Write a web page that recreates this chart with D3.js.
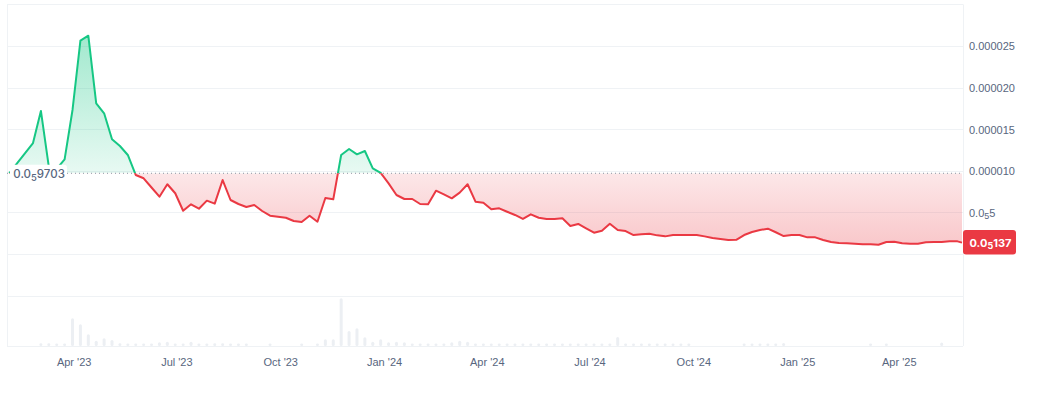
<!DOCTYPE html>
<html>
<head>
<meta charset="utf-8">
<script src="https://cdn.jsdelivr.net/npm/d3@7"></script>
<style>
  html, body { margin: 0; padding: 0; background: #fff; }
  svg { display: block; font-family: Inter, "Noto Sans", sans-serif; }
</style>
</head>
<body>
<svg id="chart" width="1048" height="394"></svg>
<script>
// weekly closes, first point = baseline price
var startDate = new Date(Date.UTC(2023, 1, 3));
var lastDate = new Date(Date.UTC(2025, 4, 27));

var prices = [
  9.703e-6, 10.91e-6, 12.13e-6, 13.34e-6, 17.19e-6, 10.49e-6, 10.22e-6, 11.38e-6, 17.31e-6, 25.64e-6,
  26.24e-6, 18.11e-6, 16.91e-6, 13.79e-6, 12.98e-6, 11.90e-6, 9.50e-6, 9.10e-6, 7.99e-6, 6.89e-6,
  8.38e-6, 7.30e-6, 5.20e-6, 5.97e-6, 5.44e-6, 6.41e-6, 6.05e-6, 8.89e-6, 6.49e-6, 6.01e-6,
  5.65e-6, 5.89e-6, 5.17e-6, 4.60e-6, 4.48e-6, 4.36e-6, 3.97e-6, 3.85e-6, 4.60e-6, 3.88e-6,
  6.73e-6, 6.57e-6, 11.90e-6, 12.62e-6, 11.98e-6, 12.38e-6, 10.30e-6, 9.75e-6, 8.49e-6, 7.09e-6,
  6.61e-6, 6.61e-6, 6.01e-6, 5.97e-6, 7.61e-6, 7.17e-6, 6.69e-6, 7.37e-6, 8.38e-6, 6.29e-6,
  6.17e-6, 5.37e-6, 5.49e-6, 5.08e-6, 4.69e-6, 4.21e-6, 4.77e-6, 4.36e-6, 4.21e-6, 4.21e-6,
  4.29e-6, 3.37e-6, 3.61e-6, 3.09e-6, 2.56e-6, 2.80e-6, 3.64e-6, 2.88e-6, 2.76e-6, 2.28e-6,
  2.36e-6, 2.44e-6, 2.24e-6, 2.12e-6, 2.28e-6, 2.28e-6, 2.28e-6, 2.28e-6, 2.12e-6, 1.92e-6,
  1.80e-6, 1.68e-6, 1.70e-6, 2.28e-6, 2.64e-6, 2.88e-6, 3.04e-6, 2.61e-6, 2.16e-6, 2.28e-6,
  2.28e-6, 2.00e-6, 2.00e-6, 1.68e-6, 1.44e-6, 1.32e-6, 1.28e-6, 1.24e-6, 1.16e-6, 1.16e-6,
  1.12e-6, 1.44e-6, 1.48e-6, 1.28e-6, 1.24e-6, 1.24e-6, 1.40e-6, 1.44e-6, 1.44e-6, 1.52e-6,
  1.52e-6, 1.37e-6
];

// weekly volume (thousand USD)
var volumes = [
  0, 0, 0, 0, 27, 27, 10, 10, 277, 217,
  117, 53, 77, 60, 27, 17, 17, 17, 10, 37,
  43, 17, 10, 43, 10, 10, 27, 27, 17, 10,
  10, 0, 0, 7, 0, 0, 0, 7, 0, 7,
  67, 67, 477, 150, 177, 87, 43, 67, 37, 43,
  37, 17, 17, 17, 17, 17, 37, 53, 43, 17,
  10, 10, 10, 7, 10, 7, 7, 10, 10, 7,
  10, 10, 10, 10, 17, 10, 17, 90, 20, 10,
  10, 10, 17, 10, 10, 17, 7, 0, 0, 0,
  0, 0, 0, 7, 7, 10, 17, 10, 30, 0,
  0, 0, 0, 0, 0, 0, 0, 0, 0, 7,
  0, 7, 0, 0, 0, 0, 0, 0, 35, 0,
  0, 0
];

var yTicks = [5e-6, 10e-6, 15e-6, 20e-6, 25e-6];
var xTicks = ["2023-04-01", "2023-07-01", "2023-10-01", "2024-01-01", "2024-04-01",
              "2024-07-01", "2024-10-01", "2025-01-01", "2025-04-01"];

var data = prices.map(function(p, i) {
  return {
    date: i < prices.length - 1 ? d3.utcDay.offset(startDate, 7 * i) : lastDate,
    price: p,
    volume: volumes[i]
  };
});

var svg = d3.select("#chart");
var width = +svg.attr("width");
var height = +svg.attr("height");

var plotLeft = 7, plotRight = 963, plotTop = 4.4, priceBottom = 295.6, volBottom = 346;
var green = "#16c784", red = "#ea3943", textColor = "#58667e", gridColor = "#eff2f5";

var x = d3.scaleUtc().domain([startDate, lastDate]).range([9.3, 962]);
var y = d3.scaleLinear().domain([-5e-6, 30e-6]).range([priceBottom, plotTop]);
var yVol = d3.scaleLinear().domain([0, d3.max(volumes)]).range([volBottom, 298.3]);

var base = prices[0];
var yBase = y(base);

// small-number format: 0.0₅9703
function splitNum(v, sig) {
  if (v < 1e-5) {
    var zeros = Math.floor(-Math.log10(v));
    var mant = (v * Math.pow(10, zeros + 1)).toPrecision(sig).replace(".", "").replace(/0+$/, "");
    return ["0.0", String(zeros), mant];
  }
  return [d3.format(".6f")(v), "", ""];
}
function writeNum(text, v, sig, size) {
  var p = splitNum(v, sig);
  text.text(null);
  text.append("tspan").text(p[0]);
  if (p[1]) {
    text.append("tspan").attr("font-size", size * 0.82).attr("dy", 2.5).text(p[1]);
    text.append("tspan").attr("dy", -2.5).text(p[2]);
  }
}

var defs = svg.append("defs");
var gGrad = defs.append("linearGradient").attr("id", "gGrad")
  .attr("gradientUnits", "userSpaceOnUse").attr("x1", 0).attr("x2", 0)
  .attr("y1", y(d3.max(prices))).attr("y2", yBase);
gGrad.append("stop").attr("offset", 0).attr("stop-color", green).attr("stop-opacity", 0.4);
gGrad.append("stop").attr("offset", 1).attr("stop-color", green).attr("stop-opacity", 0.1);
var rGrad = defs.append("linearGradient").attr("id", "rGrad")
  .attr("gradientUnits", "userSpaceOnUse").attr("x1", 0).attr("x2", 0)
  .attr("y1", yBase).attr("y2", y(0));
rGrad.append("stop").attr("offset", 0).attr("stop-color", red).attr("stop-opacity", 0.12);
rGrad.append("stop").attr("offset", 1).attr("stop-color", red).attr("stop-opacity", 0.3);

defs.append("clipPath").attr("id", "above").append("rect")
  .attr("x", 0).attr("y", 0).attr("width", width).attr("height", yBase);
defs.append("clipPath").attr("id", "below").append("rect")
  .attr("x", 0).attr("y", yBase).attr("width", width).attr("height", height - yBase);

// grid + frame
var grid = svg.append("g");
grid.selectAll("line.h")
  .data(d3.range(-5e-6, 30.1e-6, 5e-6))
  .enter().append("line")
  .attr("x1", plotLeft).attr("x2", plotRight)
  .attr("y1", function(d) { return Math.round(y(d)) + 0.5; })
  .attr("y2", function(d) { return Math.round(y(d)) + 0.5; })
  .attr("stroke", gridColor);
grid.append("line").attr("x1", plotLeft).attr("x2", plotRight)
  .attr("y1", volBottom + 0.5).attr("y2", volBottom + 0.5).attr("stroke", gridColor);
[plotLeft, plotRight].forEach(function(px) {
  grid.append("line").attr("x1", px + 0.5).attr("x2", px + 0.5)
    .attr("y1", plotTop).attr("y2", volBottom).attr("stroke", gridColor);
});

// volume bars
svg.append("g").selectAll("rect")
  .data(data.filter(function(d) { return d.volume > 0; }))
  .enter().append("rect")
  .attr("x", function(d) { return x(d.date) - 1.5; })
  .attr("width", 3)
  .attr("y", function(d) { return volBottom - Math.max(volBottom - yVol(d.volume), 2.5); })
  .attr("height", function(d) { return Math.max(volBottom - yVol(d.volume), 2.5); })
  .attr("rx", 1.5)
  .attr("fill", "#eceff3");

// baseline areas
var area = d3.area()
  .x(function(d) { return x(d.date); })
  .y0(yBase)
  .y1(function(d) { return y(d.price); });
var line = d3.line()
  .x(function(d) { return x(d.date); })
  .y(function(d) { return y(d.price); });

svg.append("path").datum(data).attr("d", area)
  .attr("fill", "url(#gGrad)").attr("clip-path", "url(#above)");
svg.append("path").datum(data).attr("d", area)
  .attr("fill", "url(#rGrad)").attr("clip-path", "url(#below)");

// baseline dotted line
svg.append("line")
  .attr("x1", plotLeft).attr("x2", plotRight)
  .attr("y1", yBase).attr("y2", yBase)
  .attr("stroke", "#8a93a3").attr("stroke-width", 1).attr("stroke-dasharray", "1 3");

svg.append("path").datum(data).attr("d", line)
  .attr("fill", "none").attr("stroke", green).attr("stroke-width", 2)
  .attr("stroke-linejoin", "round").attr("clip-path", "url(#above)");
svg.append("path").datum(data).attr("d", line)
  .attr("fill", "none").attr("stroke", red).attr("stroke-width", 2)
  .attr("stroke-linejoin", "round").attr("clip-path", "url(#below)");

// baseline label
svg.append("rect")
  .attr("x", 10).attr("y", yBase - 8.5).attr("width", 57).attr("height", 16.5)
  .attr("rx", 3).attr("fill", "#fff");
writeNum(svg.append("text")
  .attr("x", 13.3).attr("y", yBase + 5)
  .attr("font-size", 11.5).attr("font-weight", 500).attr("fill", textColor), base, 4, 11.5);

// y axis
var yAxis = svg.append("g")
  .attr("transform", "translate(" + (plotRight + 6) + ",0)")
  .call(d3.axisRight(y).tickValues(yTicks).tickSize(0).tickPadding(0));
yAxis.select(".domain").remove();
yAxis.selectAll("text")
  .attr("font-family", null).attr("font-size", 11).attr("font-weight", 500)
  .attr("fill", textColor).attr("dy", "0.35em")
  .each(function(d) { writeNum(d3.select(this), d, 4, 11); });

// x axis
var xAxis = svg.append("g")
  .attr("transform", "translate(0," + volBottom + ")")
  .call(d3.axisBottom(x)
    .tickValues(xTicks.map(function(s) { return new Date(s + "T00:00:00Z"); }))
    .tickFormat(d3.utcFormat("%b '%y"))
    .tickSize(0).tickPadding(0));
xAxis.select(".domain").remove();
xAxis.selectAll("text")
  .attr("font-family", null).attr("font-size", 11).attr("font-weight", 500)
  .attr("fill", textColor).attr("y", 16).attr("dy", "0.35em");

// current price tag
var last = prices[prices.length - 1];
svg.append("rect")
  .attr("x", plotRight).attr("y", y(last) - 12.5).attr("width", 53).attr("height", 24.5)
  .attr("rx", 3).attr("fill", red);
writeNum(svg.append("text")
  .attr("x", plotRight + 6.5).attr("y", y(last) + 4)
  .attr("font-size", 11).attr("font-weight", 700).attr("fill", "#fff"), last, 4, 11);
</script>
</body>
</html>
